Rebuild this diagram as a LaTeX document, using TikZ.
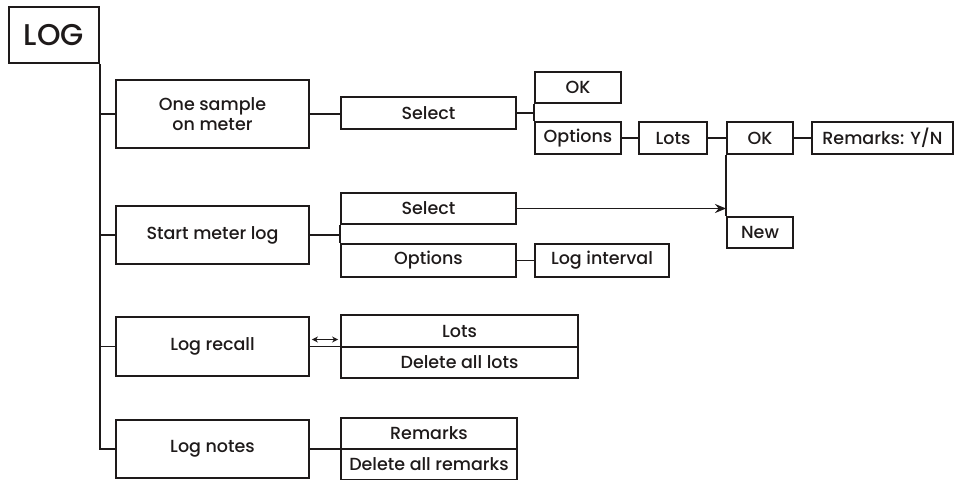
\documentclass[tikz,border=0pt]{standalone}
\usepackage{fontspec}
\setmainfont{Poppins}[UprightFont={* Medium}]
\usepackage{tikz}
\usetikzlibrary{arrows.meta, positioning, calc}
\definecolor{menuline}{RGB}{30,26,26}
\tikzset{
  menubox/.style={rectangle, draw=menuline, line width=1.9pt, inner sep=0pt,
    text centered, text=menuline, font=\fontsize{17.5}{20.5}\selectfont},
  rootbox/.style={menubox, minimum width=90pt, minimum height=56pt,
    font=\fontsize{30}{34}\selectfont},
  mainbox/.style={menubox, minimum width=193pt, align=center},
  link/.style={draw=menuline, line width=1.9pt},
  trunk/.style={draw=menuline, line width=2.5pt},
  jump/.style={link, -{Stealth[length=11pt, width=9pt]}},
  swap/.style={draw=menuline, line width=1.4pt,
    {Stealth[length=6pt, width=6pt]}-{Stealth[length=6pt, width=6pt]}},
}
\begin{document}
\begin{tikzpicture}[x=1pt, y=-1pt]
  \useasboundingbox (0,0) rectangle (955,479);

  \node[rootbox] (log) at (54,35) {LOG};

  \node[mainbox, minimum height=68pt] (one) at (212.5,114) {One sample\\on meter};
  \node[mainbox, minimum height=58pt] (start) at (212.5,235) {Start meter log};
  \node[mainbox, minimum height=59pt] (recall) at (212.5,346.5) {Log recall};
  \node[mainbox, minimum height=58pt] (notes) at (212.5,449) {Log notes};

  \node[menubox, minimum width=175pt, minimum height=32pt] (sel1) at (428.5,113) {Select};
  \node[menubox, minimum width=86pt, minimum height=31pt] (ok1) at (578,87.5) {OK};
  \node[menubox, minimum width=86pt, minimum height=32pt] (opt1) at (578,138) {Options};
  \node[menubox, minimum width=68pt, minimum height=32pt] (lots1) at (673,138) {Lots};
  \node[menubox, minimum width=66pt, minimum height=32pt] (ok2) at (760,138) {OK};
  \node[menubox, minimum width=141pt, minimum height=32pt] (remyn) at (882.5,138) {Remarks: Y/N};
  \node[menubox, minimum width=66pt, minimum height=31pt] (new) at (760,232.5) {New};

  \node[menubox, minimum width=175pt, minimum height=31pt] (sel2) at (428.5,208.5) {Select};
  \node[menubox, minimum width=175pt, minimum height=33pt] (opt2) at (428.5,260.5) {Options};
  \node[menubox, minimum width=134pt, minimum height=33pt] (logint) at (602,260.5) {Log interval};

  \node[menubox, minimum width=237pt, minimum height=32pt] (lots2) at (459.5,331) {Lots};
  \node[menubox, minimum width=237pt, minimum height=31pt] (dellots) at (459.5,362.5) {Delete all lots};

  \node[menubox, minimum width=176pt, minimum height=31pt] (rem) at (429,433.5) {Remarks};
  \node[menubox, minimum width=176pt, minimum height=31pt] (delrem) at (429,464.5) {Delete all remarks};

  \draw[trunk] (log.south east) |- (notes.west);
  \foreach \item in {one, start, recall}
    \draw[link] (\item.west) -- (\item.west -| log.east);

  \draw[link] (one.east) -- (one.east -| sel1.west);
  \draw[link] (sel1.east) -- (sel1.east -| ok1.west);
  \draw[link] (ok1.south west) -- (opt1.north west);
  \draw[link] (opt1.east) -- (lots1.west);
  \draw[link] (lots1.east) -- (ok2.west);
  \draw[link] (ok2.east) -- (remyn.west);
  \draw[link] (ok2.south west) -- (new.north west);

  \draw[link] (start.east) -- (start.east -| sel2.west);
  \draw[link] (sel2.south west) -- (opt2.north west);
  \draw[jump] (sel2.east) -- (sel2.east -| new.west);
  \draw[link] (opt2.east) -- (logint.west);

  \draw[link] (recall.east) -- (recall.east -| dellots.west);
  \draw[swap] ([xshift=2pt, yshift=7pt]recall.east)
    -- ([xshift=-2pt, yshift=7pt]recall.east -| lots2.west);

  \draw[link] (notes.east) -- (notes.east -| delrem.west);
\end{tikzpicture}
\end{document}
